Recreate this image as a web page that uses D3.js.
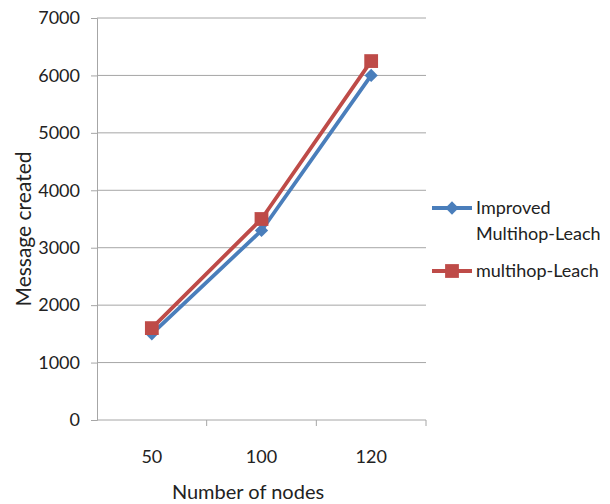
<!DOCTYPE html>
<html>
<head>
<meta charset="utf-8">
<script src="https://cdn.jsdelivr.net/npm/d3@7"></script>
<style>
  html, body { margin: 0; padding: 0; background: #fff; }
  svg { display: block; font-family: Lato, "Open Sans", sans-serif; }
</style>
</head>
<body>
<svg id="chart" width="610" height="504"></svg>
<script>
// Node counts along the x axis
const categories = ["50", "100", "120"];
// Messages created per protocol
const improvedValues = [1500, 3300, 6000];
const multihopValues = [1600, 3500, 6250];
const seriesNames = ["Improved Multihop-Leach", "multihop-Leach"];
const yTicks = [0, 1000, 2000, 3000, 4000, 5000, 6000, 7000];

// Diamond = square turned by 45 degrees
const series = [
  { name: seriesNames[0], values: improvedValues, color: "#4A7EBB", symbol: d3.symbolSquare, size: 88, rotate: 45 },
  { name: seriesNames[1], values: multihopValues, color: "#BE4B48", symbol: d3.symbolSquare, size: 190, rotate: 0 }
];

const svg = d3.select("#chart");
const plotLeft = 97, plotRight = 426, plotTop = 18, plotBottom = 420;

const x = d3.scaleBand().domain(categories).range([plotLeft, plotRight]);
const y = d3.scaleLinear().domain([0, 7000]).range([plotBottom, plotTop]);

// Horizontal gridlines
svg.append("g")
  .selectAll("line")
  .data(yTicks.filter(t => t > 0))
  .join("line")
  .attr("x1", plotLeft).attr("x2", plotRight)
  .attr("y1", d => y(d)).attr("y2", d => y(d))
  .attr("stroke", "#a6a6a6").attr("stroke-width", 1);

// Y axis
const yAxis = svg.append("g")
  .attr("transform", `translate(${plotLeft},0)`)
  .call(d3.axisLeft(y).tickValues(yTicks).tickSize(6).tickPadding(11).tickFormat(d3.format("d")));
yAxis.select(".domain").attr("stroke", "#a6a6a6");
yAxis.selectAll(".tick line").attr("stroke", "#a6a6a6");
yAxis.selectAll(".tick text")
  .attr("font-size", 18).attr("fill", "#222").attr("font-family", "Lato, sans-serif");

// X axis (category boundaries get tick marks)
const xAxis = svg.append("g")
  .attr("transform", `translate(0,${plotBottom})`);
xAxis.append("line")
  .attr("x1", plotLeft).attr("x2", plotRight).attr("y1", 0).attr("y2", 0)
  .attr("stroke", "#a6a6a6");
xAxis.selectAll("line.tk")
  .data(categories)
  .join("line")
  .attr("class", "tk")
  .attr("x1", d => x(d) + x.bandwidth()).attr("x2", d => x(d) + x.bandwidth())
  .attr("y1", 0).attr("y2", 6)
  .attr("stroke", "#a6a6a6");
xAxis.selectAll("text")
  .data(categories)
  .join("text")
  .attr("x", d => x(d) + x.bandwidth() / 2)
  .attr("y", 43)
  .attr("text-anchor", "middle")
  .attr("font-size", 18).attr("fill", "#222")
  .text(d => d);

// Axis titles
svg.append("text")
  .attr("x", 248).attr("y", 499)
  .attr("text-anchor", "middle")
  .attr("font-size", 20).attr("fill", "#222")
  .text("Number of nodes");
svg.append("text")
  .attr("transform", "translate(31,229) rotate(-90)")
  .attr("text-anchor", "middle")
  .attr("font-size", 21).attr("fill", "#222")
  .text("Message created");

// Series lines and markers
const line = d3.line()
  .x((d, i) => x(categories[i]) + x.bandwidth() / 2)
  .y(d => y(d));

series.forEach(s => {
  svg.append("path")
    .datum(s.values)
    .attr("d", line)
    .attr("fill", "none")
    .attr("stroke", s.color)
    .attr("stroke-width", 3.8)
    .attr("stroke-linejoin", "round");
  svg.append("g")
    .selectAll("path")
    .data(s.values)
    .join("path")
    .attr("transform", (d, i) => `translate(${x(categories[i]) + x.bandwidth() / 2},${y(d)}) rotate(${s.rotate})`)
    .attr("d", d3.symbol().type(s.symbol).size(s.size))
    .attr("fill", s.color);
});

// Legend
const legend = svg.append("g");
const legendRows = [
  { s: series[0], y: 208, lines: ["Improved", "Multihop-Leach"] },
  { s: series[1], y: 271, lines: ["multihop-Leach"] }
];
legendRows.forEach(r => {
  legend.append("line")
    .attr("x1", 432).attr("x2", 472)
    .attr("y1", r.y).attr("y2", r.y)
    .attr("stroke", r.s.color).attr("stroke-width", 3.8);
  legend.append("path")
    .attr("transform", `translate(452,${r.y}) rotate(${r.s.rotate})`)
    .attr("d", d3.symbol().type(r.s.symbol).size(r.s.size))
    .attr("fill", r.s.color);
  r.lines.forEach((t, i) => {
    legend.append("text")
      .attr("x", 476).attr("y", r.y + 6 + i * 26)
      .attr("font-size", 18).attr("fill", "#222")
      .text(t);
  });
});
</script>
</body>
</html>
